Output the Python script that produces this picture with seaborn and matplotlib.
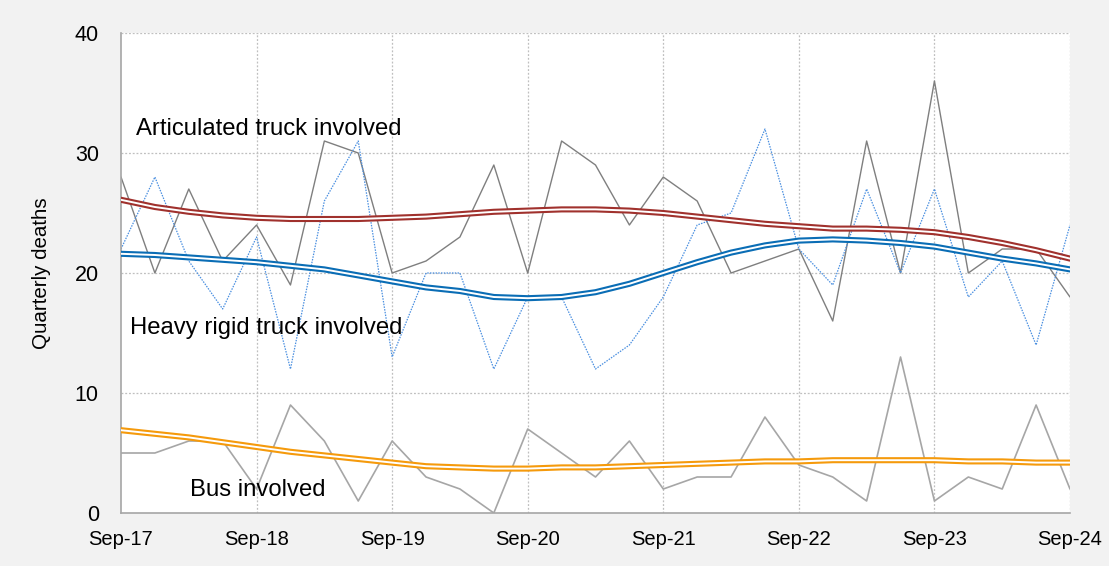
import numpy as np
import pandas as pd
import matplotlib
matplotlib.use("Agg")
import matplotlib.pyplot as plt
import seaborn as sns

# ---- data ----
quarters = list(range(29))  # Sep-17 .. Sep-24 quarterly
tick_labels = ["Sep-17", "Sep-18", "Sep-19", "Sep-20", "Sep-21", "Sep-22", "Sep-23", "Sep-24"]

articulated = [28, 20, 27, 21, 24, 19, 31, 30, 20, 21, 23, 29, 20, 31, 29, 24, 28, 26, 20, 21,
               22, 16, 31, 20, 36, 20, 22, 22, 18]
heavy_rigid = [22, 28, 21, 17, 23, 12, 26, 31, 13, 20, 20, 12, 18, 18, 12, 14, 18, 24, 25, 32,
               22, 19, 27, 20, 27, 18, 21, 14, 24]
bus = [5, 5, 6, 6, 2, 9, 6, 1, 6, 3, 2, 0, 7, 5, 3, 6, 2, 3, 3, 8, 4, 3, 1, 13, 1, 3, 2, 9, 2]

articulated_trend = [26.1, 25.5, 25.1, 24.8, 24.6, 24.5, 24.5, 24.5, 24.6, 24.7, 24.9, 25.1, 25.2,
                     25.3, 25.3, 25.2, 25.0, 24.7, 24.4, 24.1, 23.9, 23.7, 23.7, 23.6, 23.4, 23.0,
                     22.5, 21.9, 21.2]
heavy_trend = [21.6, 21.5, 21.3, 21.1, 20.9, 20.6, 20.3, 19.8, 19.3, 18.8, 18.5, 18.0, 17.9, 18.0,
               18.4, 19.1, 20.0, 20.9, 21.7, 22.3, 22.7, 22.8, 22.7, 22.5, 22.2, 21.7, 21.2, 20.8,
               20.3]
bus_trend = [6.9, 6.6, 6.3, 5.9, 5.5, 5.1, 4.8, 4.5, 4.2, 3.9, 3.8, 3.7, 3.7, 3.8, 3.8, 3.9, 4.0,
             4.1, 4.2, 4.3, 4.3, 4.4, 4.4, 4.4, 4.4, 4.3, 4.3, 4.2, 4.2]

# ---- style ----
sns.set_style("white")
plt.rcParams["font.family"] = ["Liberation Sans", "DejaVu Sans"]
plt.rcParams["text.color"] = "black"
plt.rcParams["axes.labelcolor"] = "black"
plt.rcParams["xtick.color"] = "black"
plt.rcParams["ytick.color"] = "black"

fig = plt.figure(figsize=(11.09, 5.66), dpi=100, facecolor="#f2f2f2")
ax = fig.add_axes([121 / 1109, 1 - 513 / 566, (1070 - 121) / 1109, (513 - 33) / 566])
ax.set_facecolor("white")

grid_kw = dict(color="#bfbfbf", linewidth=0.9, linestyle=(0, (1.5, 1.5)), zorder=0)
for y in [10, 20, 30, 40]:
    ax.axhline(y, **grid_kw)
for x in range(4, 29, 4):
    ax.axvline(x, **grid_kw)

# raw quarterly series
sns.lineplot(x=quarters, y=articulated, ax=ax, color="#7f7f7f", linewidth=1.0, zorder=2)
sns.lineplot(x=quarters, y=heavy_rigid, ax=ax, color="#4a8fe0", linewidth=0.9,
             linestyle=(0, (1.2, 1.0)), zorder=2)
sns.lineplot(x=quarters, y=bus, ax=ax, color="#a6a6a6", linewidth=1.2, zorder=2)

# trend lines (double-line look)
for vals, col in [(articulated_trend, "#a0312d"), (heavy_trend, "#0a6db5"), (bus_trend, "#f59a0c")]:
    sns.lineplot(x=quarters, y=vals, ax=ax, color=col, linewidth=4.4, zorder=3,
                 solid_capstyle="round")
    sns.lineplot(x=quarters, y=vals, ax=ax, color="white", linewidth=1.4, zorder=4,
                 solid_capstyle="round")

ax.set_xlim(0, 28)
ax.set_ylim(0, 40)
ax.set_xticks(range(0, 29, 4))
ax.set_xticklabels(tick_labels)
ax.set_yticks([0, 10, 20, 30, 40])
ax.tick_params(axis="x", labelsize=14.5, labelcolor="black")
ax.tick_params(axis="y", labelsize=15.5, labelcolor="black")
ax.tick_params(axis="x", direction="out", length=6, color="#a6a6a6", width=1, pad=6)
ax.tick_params(axis="y", direction="out", length=6, color="#a6a6a6", width=1, pad=10)

for s in ["top", "right"]:
    ax.spines[s].set_visible(False)
for s in ["left", "bottom"]:
    ax.spines[s].set_color("#a6a6a6")
    ax.spines[s].set_linewidth(1.2)

ax.set_ylabel("Quarterly deaths", fontsize=14.8, color="black")
ax.yaxis.set_label_coords((51 - 121) / 949, 0.5)
ax.set_xlabel("")

ax.text(0.45, 32.0, "Articulated truck involved", fontsize=17.2, va="center", ha="left",
        color="black")
ax.text(0.27, 15.4, "Heavy rigid truck involved", fontsize=17.2, va="center", ha="left",
        color="black")
ax.text(2.03, 1.9, "Bus involved", fontsize=17.2, va="center", ha="left", color="black")

fig.savefig("out.png", dpi=100, facecolor=fig.get_facecolor())
